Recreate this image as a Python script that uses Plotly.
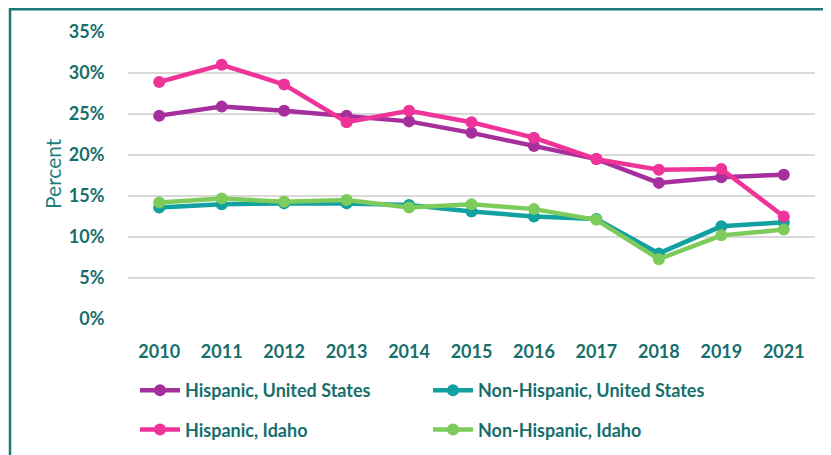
import plotly.graph_objects as go

years = ["2010", "2011", "2012", "2013", "2014", "2015", "2016", "2017", "2018", "2019", "2021"]
hisp_us = [24.8, 25.9, 25.4, 24.8, 24.1, 22.7, 21.1, 19.5, 16.6, 17.3, 17.6]
hisp_id = [28.9, 31.0, 28.6, 24.0, 25.4, 24.0, 22.1, 19.5, 18.2, 18.3, 12.5]
nonhisp_us = [13.6, 14.0, 14.1, 14.1, 13.9, 13.1, 12.5, 12.2, 8.0, 11.3, 11.8]
nonhisp_id = [14.2, 14.7, 14.3, 14.5, 13.6, 14.0, 13.4, 12.1, 7.3, 10.2, 10.9]

TEXT = "#176f6c"
W, H = 831, 455
OFF = 8  # page body margin
# plot area in page coordinates: x 128..815, y 32..319
L, T = 128 - OFF, 32 - OFF
R = W - (815 - OFF)
B = H - (319 - OFF)
pw, ph = W - L - R, H - T - B

def px(x):  # page x -> paper
    return (x - OFF - L) / pw

def py(y):  # page y -> paper
    return (H - B - (y - OFF)) / ph

fig = go.Figure()
series = [
    ("Non-Hispanic, United States", nonhisp_us, "#12a0a0", "legend2", 1),
    ("Non-Hispanic, Idaho", nonhisp_id, "#7dcb5b", "legend2", 2),
    ("Hispanic, United States", hisp_us, "#a52f9c", "legend", 1),
    ("Hispanic, Idaho", hisp_id, "#ee3399", "legend", 2),
]
for name, vals, col, lg, rank in series:
    fig.add_trace(go.Scatter(
        x=years, y=vals, name=name, mode="lines+markers",
        line=dict(color=col, width=4.5),
        marker=dict(color=col, size=12),
        legend=lg, legendrank=rank, legendgroup=name,
    ))

FONT = dict(family="Lato", size=18, color=TEXT, weight="bold")

legend_common = dict(
    orientation="v", xanchor="left", yanchor="top",
    font=FONT,
    bgcolor="rgba(0,0,0,0)", tracegroupgap=13, itemwidth=40,
)

fig.update_layout(
    width=W, height=H,
    margin=dict(l=L, r=R, t=T, b=B, autoexpand=False),
    paper_bgcolor="white", plot_bgcolor="white",
    showlegend=True,
    legend=dict(x=px(135), y=py(372), **legend_common),
    legend2=dict(x=px(428), y=py(372), **legend_common),
    xaxis=dict(
        type="category", showgrid=False, showline=False, zeroline=False,
        ticks="outside", ticklen=16, tickcolor="rgba(0,0,0,0)",
        tickfont=FONT,
        range=[-0.5, 10.5],
    ),
    yaxis=dict(
        range=[0, 35], dtick=5, ticksuffix="%",
        showgrid=True, gridcolor="#d9d9d9", gridwidth=2,
        zeroline=False, showline=False,
        ticks="outside", ticklen=19, tickcolor="rgba(0,0,0,0)",
        tickfont=FONT,
    ),
    shapes=[dict(
        type="rect", xref="paper", yref="paper",
        x0=px(10), x1=px(W + 40), y0=py(H + 40), y1=py(9.2),
        line=dict(color="#1b7a77", width=2.5), fillcolor="rgba(0,0,0,0)",
        layer="below",
    )],
    annotations=[dict(
        text="Percent", xref="paper", yref="paper",
        x=px(52), y=py(174), textangle=-90, showarrow=False,
        xanchor="center", yanchor="middle",
        font=dict(family="Lato", size=21, color="#1f7f7c"),
    )],
)

fig.write_html("out.html")
